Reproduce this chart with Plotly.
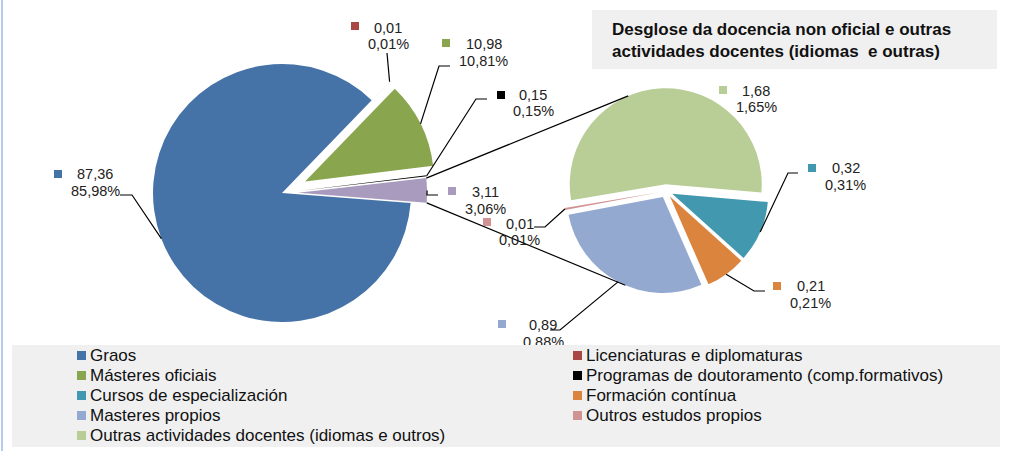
import math
import plotly.graph_objects as go

W, H = 1009, 451

# datos
main_labels = ["Graos", "Licenciaturas e diplomaturas", "Másteres oficiais",
               "Programas de doutoramento (comp.formativos)", "Outros"]
main_values = [87.36, 0.01, 10.98, 0.15, 3.11]
main_colors = ["#4572A7", "#AA4643", "#89A54E", "#000000", "#A99BBD"]

sub_labels = ["Outras actividades docentes (idiomas e outros)", "Cursos de especialización",
              "Formación contínua", "Masteres propios", "Outros estudos propios"]
sub_values = [1.68, 0.32, 0.21, 0.89, 0.01]
sub_colors = ["#B9CD96", "#4198AF", "#DB843D", "#93A9CF", "#D19392"]

legend_labels = ["Graos", "Licenciaturas e diplomaturas", "Másteres oficiais",
                 "Programas de doutoramento (comp.formativos)", "Cursos de especialización",
                 "Formación contínua", "Masteres propios", "Outros estudos propios",
                 "Outras actividades docentes (idiomas e outros)"]

title_text = "Desglose da docencia non oficial e outras<br>actividades docentes (idiomas  e outras)"

# xeometria (pixeles)
C1, R1, ROT1 = (282, 193), 129, 94.5
C2, R2, ROT2 = (666, 191), 96, 260.5
main_pull = [0, 0.2, 0.2, 0.13, 0.125]
sub_pull = [0.07] * 5

# posicions das etiquetas: (centro texto x, y liña 1), (cadrado x, y)
main_text_pos = [(95, 174), (388, 28), (483.5, 44), (533, 95), (485, 192)]
main_sq_pos = [(58, 173.5), (355, 26.5), (445.5, 43), (500.5, 95), (452, 190.5)]
main_leader = [[(120, 195), (132, 195)], [(387, 53)], [(450, 66), (439, 66)],
               [(487, 99), (476, 99)], [(438, 195), (427, 195)]]
sub_text_pos = [(756, 90.5), (845.5, 168), (810.5, 286), (543, 325), (519.5, 223.5)]
sub_sq_pos = [(723, 90), (812, 168), (777, 285.5), (502, 324), (487, 222)]
sub_leader = [None, [(798, 173), (788, 173)], [(765, 291), (754, 291)],
              [(550, 330), (560, 330)], [(534, 227), (545, 227)]]

FONT = "Arial, Liberation Sans, sans-serif"


def px(x):
    return x / W


def py(y):
    return 1 - y / H


def angles(values, rot):
    tot = sum(values)
    out = []
    a = rot
    for v in values:
        s = v / tot * 360
        out.append((a, a + s))
        a += s
    return out


def pt(c, r, ang, off=0, off_ang=0):
    t = math.radians(ang)
    to = math.radians(off_ang)
    return (c[0] + off * math.sin(to) + r * math.sin(t),
            c[1] - off * math.cos(to) - r * math.cos(t))


def domain(c, r, pull):
    h = r * (1 + max(pull))
    return dict(x=[(c[0] - h) / W, (c[0] + h) / W], y=[1 - (c[1] + h) / H, 1 - (c[1] - h) / H])


def fmt(v):
    return f"{v:.2f}".replace(".", ",")


fig = go.Figure()
fig.add_trace(go.Pie(labels=main_labels, values=main_values, sort=False, direction="clockwise",
                     rotation=ROT1, pull=main_pull, marker=dict(colors=main_colors, line=dict(width=0)),
                     textinfo="none", hoverinfo="label+value+percent", showlegend=False,
                     domain=domain(C1, R1, main_pull)))
fig.add_trace(go.Pie(labels=sub_labels, values=sub_values, sort=False, direction="clockwise",
                     rotation=ROT2, pull=sub_pull, marker=dict(colors=sub_colors, line=dict(width=0)),
                     textinfo="none", hoverinfo="label+value+percent", showlegend=False,
                     domain=domain(C2, R2, sub_pull)))

total = sum(main_values)
shapes = []
annotations = []


def path(points):
    return "M " + " L ".join(f"{px(x)},{py(y)}" for x, y in points)


def add_label(v, tpos, sqpos, color):
    tx, ty = tpos
    annotations.append(dict(x=px(tx), y=py(ty), text=fmt(v), showarrow=False,
                            font=dict(size=14.5, color="#222"), xanchor="center", yanchor="middle"))
    annotations.append(dict(x=px(tx), y=py(ty + 16.5), text=fmt(v / total * 100) + "%", showarrow=False,
                            font=dict(size=14.5, color="#222"), xanchor="center", yanchor="middle"))
    annotations.append(dict(x=px(sqpos[0]), y=py(sqpos[1]), text=" ", showarrow=False, width=8, height=8,
                            bgcolor=color, borderpad=0, borderwidth=0, font=dict(size=4),
                            xanchor="center", yanchor="middle"))


a1 = angles(main_values, ROT1)
for i, v in enumerate(main_values):
    mid = (a1[i][0] + a1[i][1]) / 2
    end = pt(C1, R1 * (1 + main_pull[i]), mid)
    shapes.append(dict(type="path", xref="paper", yref="paper", path=path(main_leader[i] + [end]),
                       line=dict(color="black", width=1.2)))
    add_label(v, main_text_pos[i], main_sq_pos[i], main_colors[i])

a2 = angles(sub_values, ROT2)
for i, v in enumerate(sub_values):
    mid = (a2[i][0] + a2[i][1]) / 2
    end = pt(C2, R2 * (1 + sub_pull[i]), mid)
    if sub_leader[i]:
        shapes.append(dict(type="path", xref="paper", yref="paper", path=path(sub_leader[i] + [end]),
                           line=dict(color="black", width=1.2)))
    add_label(v, sub_text_pos[i], sub_sq_pos[i], sub_colors[i])

# liñas de conexion entre as dúas tartas
k = len(main_values) - 1
mid_o = (a1[k][0] + a1[k][1]) / 2
top1 = pt(C1, R1, a1[k][0], R1 * main_pull[k], mid_o)
bot1 = pt(C1, R1, a1[k][1], R1 * main_pull[k], mid_o)
mid_g = (a2[0][0] + a2[0][1]) / 2
mid_m = (a2[3][0] + a2[3][1]) / 2
top2 = pt(C2, R2, 337, R2 * sub_pull[0], mid_g)
bot2 = pt(C2, R2, 203, R2 * sub_pull[3], mid_m)
for p0, p1 in [(top1, top2), (bot1, bot2)]:
    shapes.append(dict(type="line", xref="paper", yref="paper", x0=px(p0[0]), y0=py(p0[1]),
                       x1=px(p1[0]), y1=py(p1[1]), line=dict(color="black", width=1.2)))

# caixa do titulo
shapes.append(dict(type="rect", xref="paper", yref="paper", x0=px(592), x1=px(997), y0=py(69), y1=py(10),
                   fillcolor="#F0F0F0", line=dict(width=0), layer="below"))
annotations.append(dict(x=px(610), y=py(40), text="<b>" + title_text + "</b>", showarrow=False,
                        align="left", xanchor="left", yanchor="middle",
                        font=dict(size=17, color="#111")))

# borde esquerdo
shapes.append(dict(type="rect", xref="paper", yref="paper", x0=px(1), x1=px(3), y0=0, y1=1,
                   fillcolor="#B7CBEF", line=dict(width=0)))

# lenda (caixa gris por riba das etiquetas)
annotations.append(dict(x=px(12), y=py(345), xanchor="left", yanchor="top", text=" ", showarrow=False,
                        width=988, height=102, bgcolor="#F0F0F0", borderpad=0, borderwidth=0,
                        font=dict(size=4)))
for i, lab in enumerate(legend_labels):
    col = main_colors[main_labels.index(lab)] if lab in main_labels else sub_colors[sub_labels.index(lab)]
    row, c = divmod(i, 2)
    x0 = 77 if c == 0 else 573
    yc = 355.5 + 20 * row
    annotations.append(dict(x=px(x0), y=py(yc), xanchor="left", yanchor="middle", text=" ", showarrow=False,
                            width=9, height=9, bgcolor=col, borderpad=0, borderwidth=0, font=dict(size=4)))
    annotations.append(dict(x=px(x0 + 11), y=py(yc), xanchor="left", yanchor="middle", text=lab,
                            showarrow=False, font=dict(size=17, color="#111")))

fig.update_layout(width=W, height=H, margin=dict(l=0, r=0, t=0, b=0),
                  paper_bgcolor="white", plot_bgcolor="white",
                  font=dict(family=FONT), shapes=shapes, annotations=annotations)

fig.write_html("out.html", config={"displayModeBar": False},
               post_script="document.body.style.margin='0';")
